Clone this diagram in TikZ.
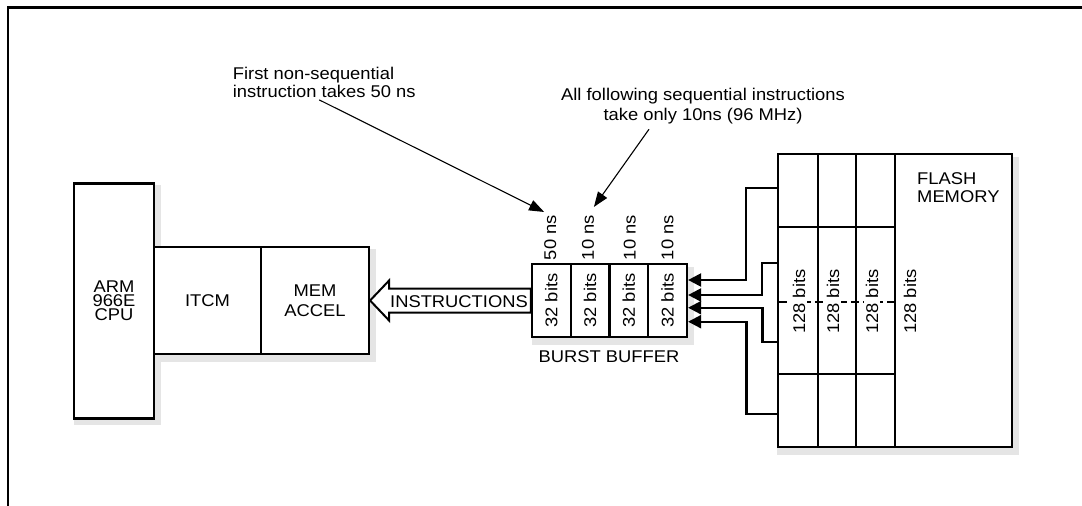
\documentclass[tikz,border=0pt]{standalone}
\usepackage{graphicx}
\usepackage{fontspec}
\setmainfont{Liberation Sans}[FakeStretch=1.08]
\usetikzlibrary{arrows.meta,calc}
\definecolor{shadowgray}{gray}{0.9}
\tikzset{
  box/.style={draw, line width=2.2pt, fill=white, inner sep=0pt, font=\fontsize{17}{20}\selectfont, align=center},
  boxline/.style={line width=2.2pt},
  shade/.style={fill=shadowgray},
  lbl/.style={font=\fontsize{17}{20}\selectfont, inner sep=0pt},
  wire/.style={line width=2.2pt, -{Triangle[length=13pt,width=13pt]}},
  note/.style={line width=1.1pt, -{Triangle[length=15pt,width=11pt]}},
  frameline/.style={line width=2.3pt},
}
\begin{document}
\begin{tikzpicture}[x=1pt,y=-1pt]
\useasboundingbox (0,0) rectangle (1082,506);
% outer frame
\draw[frameline] (8.3,506) -- (8.3,7.5) -- (1082,7.5);

% shadows
\fill[shade] (74,185) rectangle (161,425);
\fill[shade] (154,249) rectangle (376,362);
\fill[shade] (532,267) rectangle (694,345);
\fill[shade] (777,157) rectangle (1019,455);

% CPU side
\node[box, minimum width=80, minimum height=235, font=\fontsize{17}{14.2}\selectfont] (arm) at (114,301) {ARM\\966E\\CPU};
\node[box, minimum width=107, minimum height=107] (itcm) at (207.5,300.5) {ITCM};
\node[box, minimum width=108, minimum height=107] (mem) at (315,300.5) {MEM\\ACCEL};

% burst buffer
\foreach \i/\x in {1/551.375,2/590.125,3/628.875,4/667.625}{
  \node[box, minimum width=38.75, minimum height=73] (bb\i) at (\x,300.5) {\rotatebox{90}{32 bits}};
}
\node[lbl] (bblabel) at (609,356.5) {BURST BUFFER};

% hollow INSTRUCTIONS arrow
\draw[line width=2pt, fill=white, line join=miter]
  (mem.east) -- ++(19,-20) -- ++(0,8) -- ($(bb1.west)+(0,-12)$)
  -- ($(bb1.west)+(0,12)$) -- ($(mem.east)+(19,12)$) -- ++(0,8) -- cycle;
\node[lbl] (instr) at (459,302) {INSTRUCTIONS};

% timing labels
\node[lbl, rotate=90, anchor=west] (ns1) at ($(bb1.north)+(-1,-2.5)$) {50 ns};
\node[lbl, rotate=90, anchor=west] (ns2) at ($(bb2.north)+(-2,-2.5)$) {10 ns};
\node[lbl, rotate=90, anchor=west] (ns3) at ($(bb3.north)+(1,-2.5)$) {10 ns};
\node[lbl, rotate=90, anchor=west] (ns4) at ($(bb4.north)+(0,-2.5)$) {10 ns};

% annotations
\node[lbl, align=left, anchor=north west, font=\fontsize{17}{18.3}\selectfont] (a1) at (232.7,66.7) {First non-sequential\\instruction takes 50 ns};
\node[lbl, align=center, anchor=north] (a2) at (703,88) {All following sequential instructions\\take only 10ns (96 MHz)};
\draw[note, shorten >=7pt] ($(a1.south)+(-5,2)$) -- (ns1.east);
\draw[note, shorten >=10pt] ($(a2.south)+(-54,5)$) -- (ns2.east);

% flash memory
\node[box, minimum width=234, minimum height=293] (flash) at (895,300.5) {};
\draw[boxline] (818,154) -- (818,447);
\draw[boxline] (856,154) -- (856,447);
\draw[boxline] (895,154) -- (895,447);
\draw[boxline] (778,227) -- (895,227);
\draw[boxline] (778,374) -- (895,374);
\draw[line width=2pt, dash pattern=on 8pt off 4pt] (779,301.7) -- (895,301.7);
\node[lbl, rotate=90, fill=white, inner sep=1.5pt] (f1) at (799,301.7) {128 bits};
\node[lbl, rotate=90, fill=white, inner sep=1.5pt] (f2) at (833,301.7) {128 bits};
\node[lbl, rotate=90, fill=white, inner sep=1.5pt] (f3) at (872,301.7) {128 bits};
\node[lbl, rotate=90, inner sep=1.5pt] (f4) at (910,301.7) {128 bits};
\node[lbl, align=left, anchor=north west, font=\fontsize{17}{18.3}\selectfont] (flashlbl) at (917,172) {FLASH\\MEMORY};

% wires from flash to burst buffer
\draw[wire] ($(flash.west)+(0,-112.5)$) -| (746,280) -- ($(bb4.east)+(0,-20.5)$);
\draw[wire] ($(flash.west)+(0,-37.5)$) -| (762,295) -- ($(bb4.east)+(0,-5.5)$);
\draw[wire] ($(flash.west)+(0,41.5)$) -| (762.5,307.7) -- ($(bb4.east)+(0,7.2)$);
\draw[wire] ($(flash.west)+(0,113.5)$) -| (746.5,321.7) -- ($(bb4.east)+(0,21.2)$);
\end{tikzpicture}
\end{document}
